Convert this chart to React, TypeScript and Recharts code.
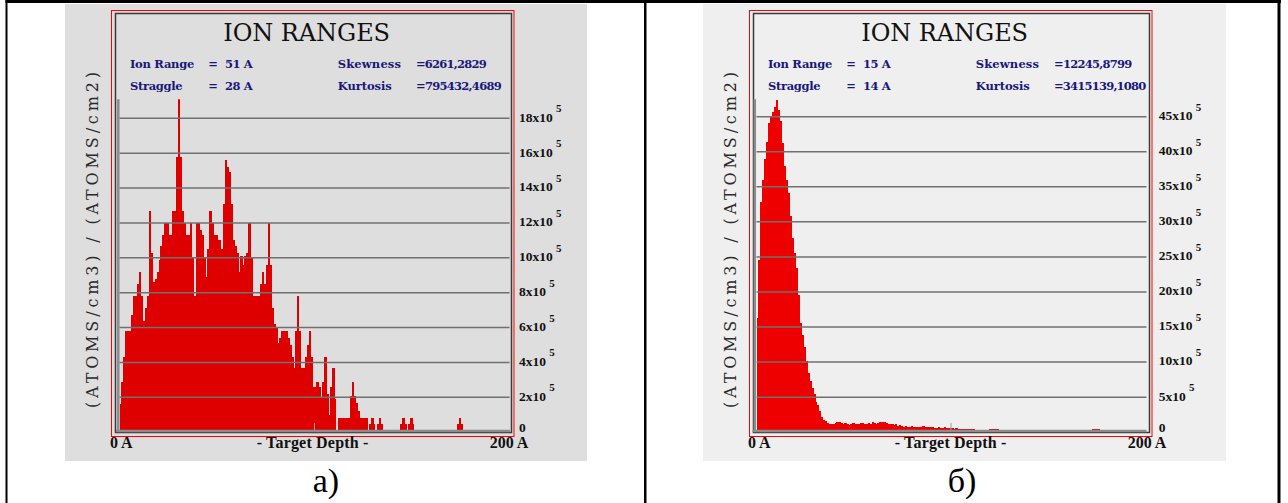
import React from 'react';
import { BarChart, Bar, XAxis, YAxis, ReferenceLine } from 'recharts';

// depth bins, 1 Å each, 0..199 Å
const DEPTH_BINS = Array.from({ length: 200 }, (_, i) => i);

// chart a) concentration, units of 10^5 (ATOMS/cm3)/(ATOMS/cm2)
const CONC_A = [
  1.6, 2.9, 4.3, 5.8, 5.8, 5.8, 6.7, 7.8, 7.8, 8.5,
  9.2, 7.8, 6.4, 7.1, 7.8, 12.7, 10.3, 8.6, 8.8, 9.2,
  9.9, 10.7, 11.3, 12.0, 12.0, 11.3, 11.3, 12.7, 12.7, 15.8,
  19.1, 15.8, 12.7, 12.0, 11.3, 11.3, 12.0, 10.0, 7.8, 12.0,
  12.0, 11.6, 11.3, 10.0, 8.9, 10.5, 12.7, 12.0, 11.3, 11.3,
  11.0, 11.0, 10.5, 13.1, 15.6, 15.2, 14.9, 13.1, 11.0, 10.7,
  10.3, 9.2, 10.1, 9.6, 10.1, 10.3, 12.0, 10.0, 7.8, 7.8,
  7.8, 7.8, 8.5, 9.2, 8.5, 9.6, 12.0, 9.6, 7.1, 6.2,
  6.0, 5.1, 5.4, 5.8, 5.8, 5.8, 5.4, 5.0, 4.3, 3.7,
  5.8, 7.8, 5.8, 3.7, 3.7, 4.3, 5.0, 5.8, 4.3, 2.6,
  2.6, 2.9, 2.6, 2.0, 2.9, 4.3, 2.2, 1.0, 2.6, 3.7,
  1.9, 0, 0.8, 0.8, 0.8, 0.8, 0.8, 0.8, 2.1, 2.9,
  2.1, 1.7, 1.2, 0.8, 0.8, 0.8, 0.8, 0, 0.45, 0.8,
  0.45, 0, 0.45, 0.8, 0.45, 0, 0, 0, 0, 0,
  0, 0, 0, 0, 0.45, 0.8, 0.45, 0, 0.45, 0.8,
  0.45, 0, 0, 0, 0, 0, 0, 0, 0, 0,
  0, 0, 0, 0, 0, 0, 0, 0, 0, 0,
  0, 0, 0, 0.45, 0.8, 0.45, 0, 0, 0, 0,
  0, 0, 0, 0, 0, 0, 0, 0, 0, 0,
  0, 0, 0, 0, 0, 0, 0, 0, 0, 0,
];

// chart б) concentration, units of 10^5
const CONC_B = [
  16.3, 24.6, 32.9, 35.9, 39.0, 41.4, 44.1, 45.1, 45.6, 46.4,
  47.4, 45.9, 44.4, 41.2, 38.0, 36.0, 34.1, 30.8, 27.7, 25.5,
  23.4, 19.5, 15.6, 13.8, 12.2, 10.1, 8.4, 7.3, 6.3, 5.4,
  4.3, 3.9, 3.0, 2.1, 1.8, 1.6, 1.3, 1.1, 1.2, 1.1,
  1.3, 1.4, 1.4, 1.3, 1.2, 1.3, 1.1, 1.0, 1.2, 1.3,
  1.1, 1.2, 1.2, 1.3, 1.3, 1.2, 1.1, 1.3, 1.2, 1.4,
  1.3, 1.2, 1.3, 1.4, 1.5, 1.4, 1.3, 1.2, 1.1, 1.2,
  1.0, 1.1, 0.9, 1.0, 0.9, 0.8, 0.9, 0.8, 0.8, 0.9,
  0.8, 0.8, 0.7, 0.8, 0.8, 0.9, 0.8, 0.7, 0.8, 0.8,
  0.7, 0.6, 0.6, 0.7, 0.6, 0.6, 0.7, 0.6, 0.6, 0.6,
  0.6, 0.5, 0.6, 0.5, 0.5, 0.5, 0.5, 0.4, 0.5, 0.5,
  0.5, 0.4, 0, 0, 0, 0, 0, 0, 0, 0.5,
  0.5, 0.5, 0.5, 0.4, 0, 0, 0, 0, 0, 0,
  0, 0, 0, 0, 0, 0, 0, 0, 0, 0,
  0, 0, 0, 0, 0, 0, 0, 0, 0, 0,
  0, 0, 0, 0, 0, 0, 0, 0, 0, 0,
  0, 0, 0, 0, 0, 0, 0, 0, 0, 0,
  0, 0, 0.45, 0.45, 0.45, 0.45, 0, 0, 0, 0,
  0, 0, 0, 0, 0, 0, 0, 0, 0, 0,
  0, 0, 0, 0, 0, 0, 0, 0, 0, 0,
];

const TICKS_A = [0, 2, 4, 6, 8, 10, 12, 14, 16, 18];
const TICKS_B = [0, 5, 10, 15, 20, 25, 30, 35, 40, 45];

const TITLE = 'ION RANGES';
const STAT_NAMES = ['Ion Range', 'Straggle', 'Skewness', 'Kurtosis'];
const STATS_A = ['51 A', '28 A', '=6261,2829', '=795432,4689'];
const STATS_B = ['15 A', '14 A', '=12245,8799', '=3415139,1080'];
const Y_LABEL = '(ATOMS/cm3) / (ATOMS/cm2)';
const X_LABELS = ['0 A', '- Target Depth -', '200 A'];
const CAPTIONS = ['а)', 'б)'];

const dataA = DEPTH_BINS.map((d, i) => ({ depth: d, conc: CONC_A[i] }));
const dataB = DEPTH_BINS.map((d, i) => ({ depth: d, conc: CONC_B[i] }));

const TIMES = '"Liberation Serif", "Times New Roman", serif';
const DEJAVU = '"DejaVu Serif", serif';
const NAVY = '#18187a';

function RightTick(props: any) {
  const { y, payload, labelX } = props;
  const v = payload.value;
  if (v === 0) {
    return (
      <text x={labelX} y={y - 0.5} fontFamily={TIMES} fontWeight="bold" fontSize={13.5} fill="#111">
        0
      </text>
    );
  }
  return (
    <text x={labelX} y={y + 3.4} fontFamily={TIMES} fontWeight="bold" fontSize={13.5} fill="#111">
      {`${v}x10`}
      <tspan dx={3.3} dy={-9.4} fontSize={11}>
        5
      </tspan>
    </text>
  );
}

function HistBar(props: any) {
  const { x, y, width, height, fill } = props;
  if (!height || height <= 0) return null;
  return <rect x={x} y={y} width={width + 0.7} height={height} fill={fill} shapeRendering="crispEdges" />;
}

function Histogram({ left, data, max, ticks, fill, labelX }: any) {
  return (
    <div style={{ position: 'absolute', left, top: 0 }}>
      <BarChart
        width={600}
        height={470}
        data={data}
        margin={{ top: 99.3, right: 30.5, bottom: 37.8, left: 119.5 }}
        barCategoryGap={0}
        barGap={0}
      >
        <XAxis dataKey="depth" hide />
        <YAxis
          orientation="right"
          width={60}
          domain={[0, max]}
          ticks={ticks}
          interval={0}
          allowDataOverflow
          axisLine={false}
          tickLine={false}
          tick={(p: any) => <RightTick {...p} labelX={labelX} />}
        />
        <Bar dataKey="conc" fill={fill} barSize={2} isAnimationActive={false} shape={<HistBar />} />
        {ticks
          .filter((t: number) => t > 0)
          .map((t: number) => (
            <ReferenceLine key={t} y={t} stroke="#707070" strokeWidth={1.5} />
          ))}
      </BarChart>
    </div>
  );
}

function PanelOverlay({ o, c, stats, statW }: any) {
  return (
    <g>
      <rect x={o + 111.5} y={10.5} width={402.5} height={426} fill="none" stroke="#ff0000" strokeWidth={1} />
      <rect x={o + 115.5} y={13.5} width={396} height={419} fill="none" stroke="#3a3a3a" strokeWidth={1.5} />
      <line x1={c + 118.3} y1={99.3} x2={c + 118.3} y2={432} stroke="#8c8c8c" strokeWidth={2.5} />
      <line x1={c + 116} y1={431} x2={c + 510} y2={431} stroke="#8c8c8c" strokeWidth={2.5} />
      <line x1={c + 314.5} y1={423} x2={c + 314.5} y2={430} stroke="#9a9a9a" strokeWidth={1} />
      <text x={o + 306.7} y={40.7} textAnchor="middle" fontFamily={DEJAVU} fontSize={24} fill="#111"
        textLength={166.7} lengthAdjust="spacing">
        {TITLE}
      </text>
      <g fontFamily={DEJAVU} fontWeight="bold" fontSize={11.5} fill={NAVY}>
        <text x={o + 130} y={68.3} textLength={64.3} lengthAdjust="spacing">{STAT_NAMES[0]}</text>
        <text x={o + 130} y={89.5} textLength={52.7} lengthAdjust="spacing">{STAT_NAMES[1]}</text>
        <text x={o + 208.3} y={68.3}>=</text>
        <text x={o + 208.3} y={89.5}>=</text>
        <text x={o + 225} y={68.3} textLength={27.7} lengthAdjust="spacing">{stats[0]}</text>
        <text x={o + 225} y={89.5} textLength={27.7} lengthAdjust="spacing">{stats[1]}</text>
        <text x={o + 337.7} y={68.3} textLength={63.3} lengthAdjust="spacing">{STAT_NAMES[2]}</text>
        <text x={o + 337.7} y={89.5} textLength={54} lengthAdjust="spacing">{STAT_NAMES[3]}</text>
        <text x={o + 416} y={68.3} textLength={statW[0]} lengthAdjust="spacing">{stats[2]}</text>
        <text x={o + 416} y={89.5} textLength={statW[1]} lengthAdjust="spacing">{stats[3]}</text>
      </g>
      <text
        transform={`translate(${o + 92}, 240) rotate(-90)`}
        x={0}
        y={5.5}
        textAnchor="middle"
        fontFamily={DEJAVU}
        fontSize={16}
        fill="#2a2a2a"
        textLength={336}
        lengthAdjust="spacing"
      >
        {Y_LABEL}
      </text>
      <g fontFamily={TIMES} fontWeight="bold" fontSize={16} fill="#111">
        <text x={o + 110} y={447.7}>{X_LABELS[0]}</text>
        <text x={o + 312.5} y={447.7} textAnchor="middle" textLength={111.7} lengthAdjust="spacing">{X_LABELS[1]}</text>
        <text x={o + 528.3} y={447.7} textAnchor="end">{X_LABELS[2]}</text>
      </g>
    </g>
  );
}

export default function App() {
  return (
    <div style={{ position: 'absolute', left: 0, top: 0, width: 1288, height: 503, background: '#fff', overflow: 'hidden' }}>
      <svg style={{ position: 'absolute', left: 0, top: 0 }} width={1288} height={503}>
        <rect x={65} y={4} width={522} height={457} fill="#dedede" />
        <rect x={703} y={4} width={523} height={457} fill="#efefef" />
      </svg>
      <Histogram left={0} data={dataA} max={19.09} ticks={TICKS_A} fill="#de0000" labelX={519} />
      <Histogram left={636.5} data={dataB} max={47.48} ticks={TICKS_B} fill="#ee0000" labelX={521.8} />
      <svg style={{ position: 'absolute', left: 0, top: 0, pointerEvents: 'none' }} width={1288} height={503}>
        <PanelOverlay o={0} c={0} stats={STATS_A} statW={[70.7, 85.7]} />
        <PanelOverlay o={638} c={636.5} stats={STATS_B} statW={[78.3, 92.3]} />
        <rect x={5.5} y={0} width={1275.5} height={3} fill="#000" />
        <rect x={5.5} y={0} width={2} height={503} fill="#000" />
        <rect x={644} y={0} width={2.5} height={503} fill="#000" />
        <rect x={1277.5} y={0} width={3} height={503} fill="#000" />
        <text x={326} y={492} textAnchor="middle" fontFamily={TIMES} fontSize={34} fill="#000">{CAPTIONS[0]}</text>
        <text x={962} y={492} textAnchor="middle" fontFamily={TIMES} fontSize={34} fill="#000">{CAPTIONS[1]}</text>
      </svg>
    </div>
  );
}
